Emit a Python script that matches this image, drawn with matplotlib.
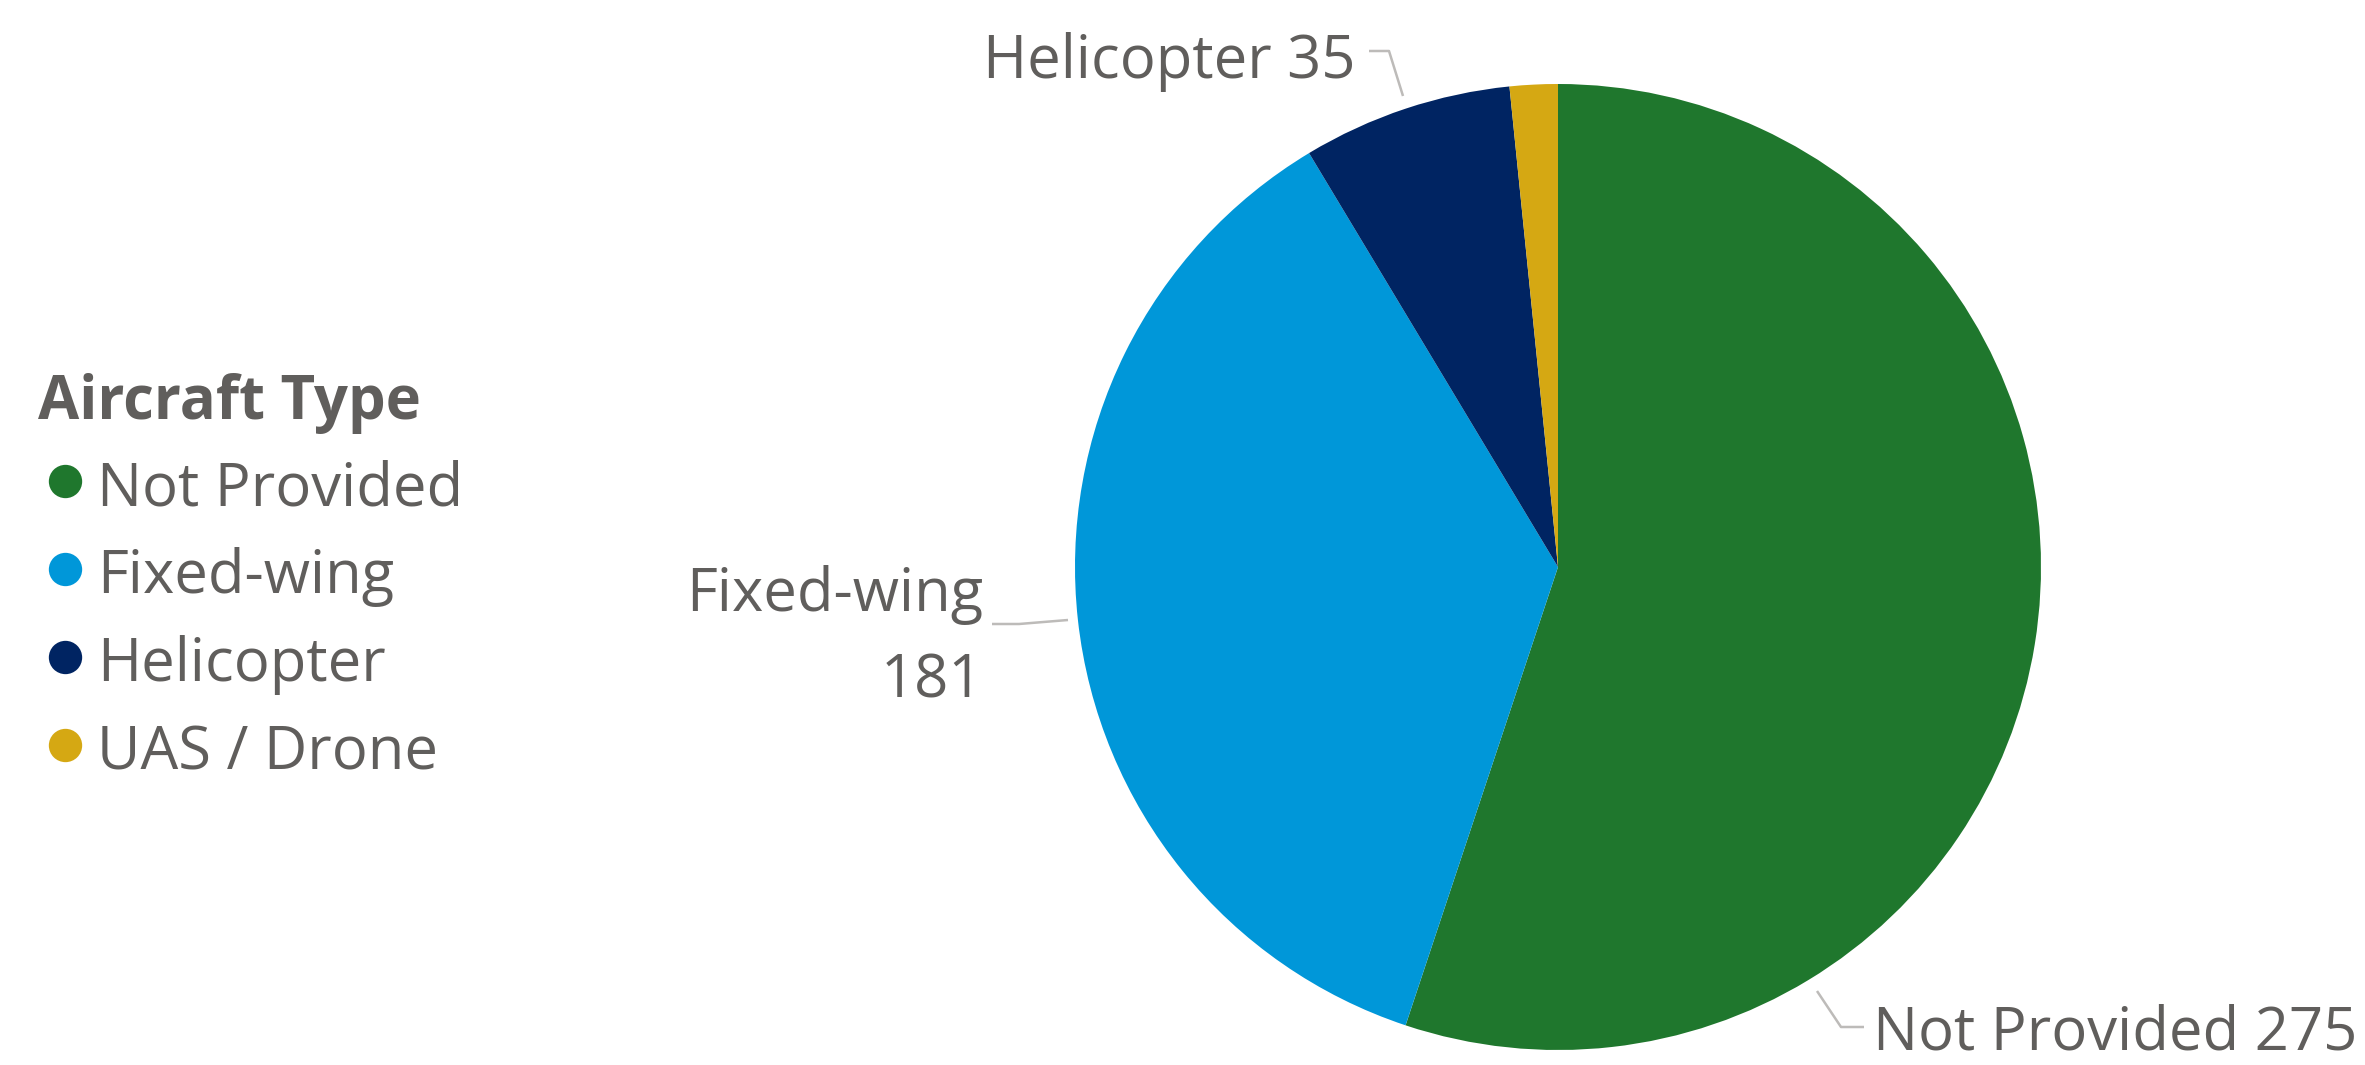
import matplotlib.pyplot as plt
import numpy as np

# dados
categorias = ['Not Provided', 'Fixed-wing', 'Helicopter', 'UAS / Drone']
contagens = [275, 181, 35, 8]
cores = ['#1F772D', '#0097D9', '#002462', '#D5A813']
titulo_legenda = 'Aircraft Type'

W, H = 2365, 1065
texto_cor = '#605E5C'
linha_cor = '#BDBBB9'
fonte = ['Open Sans', 'DejaVu Sans']
tam = 43

plt.rcParams['font.family'] = fonte

fig = plt.figure(figsize=(W / 100, H / 100), dpi=100)
ax = fig.add_axes([0, 0, 1, 1])

# pizza (coordenadas em pixels da imagem, y para cima)
centro = (1558, H - 567)
raio = 483
ax.pie(contagens, colors=cores, startangle=90, counterclock=False,
       center=centro, radius=raio, wedgeprops=dict(linewidth=0))
ax.set_xlim(0, W)
ax.set_ylim(0, H)
ax.set_aspect('equal')
ax.axis('off')

# legenda manual
ax.text(38, H - 419, titulo_legenda, fontsize=tam, fontweight='bold',
        color=texto_cor, ha='left', va='baseline')
for i, (cat, cor) in enumerate(zip(categorias, cores)):
    base = 505 + 88 * i
    ax.plot(65, H - (base - 24), marker='o', markersize=24, color=cor,
            markeredgewidth=0)
    ax.text(97, H - base, cat, fontsize=tam, color=texto_cor,
            ha='left', va='baseline')

# rótulos com linhas de chamada
def chamada(pontos):
    xs = [p[0] for p in pontos]
    ys = [H - p[1] for p in pontos]
    ax.plot(xs, ys, color=linha_cor, linewidth=1.8, solid_capstyle='butt')

# Helicopter
chamada([(1369, 51), (1389, 51), (1403, 96)])
ax.text(1356, H - 78, f'{categorias[2]} {contagens[2]}', fontsize=tam,
        color=texto_cor, ha='right', va='baseline')

# Fixed-wing
chamada([(992, 624), (1019, 624), (1068, 620)])
ax.text(983, H - 611, categorias[1], fontsize=tam, color=texto_cor,
        ha='right', va='baseline')
ax.text(983, H - 698, str(contagens[1]), fontsize=tam, color=texto_cor,
        ha='right', va='baseline')

# Not Provided
chamada([(1817, 991), (1841, 1027), (1864, 1027)])
ax.text(1873, H - 1050, f'{categorias[0]} {contagens[0]}', fontsize=tam,
        color=texto_cor, ha='left', va='baseline')

plt.savefig('out.png', dpi=100)
